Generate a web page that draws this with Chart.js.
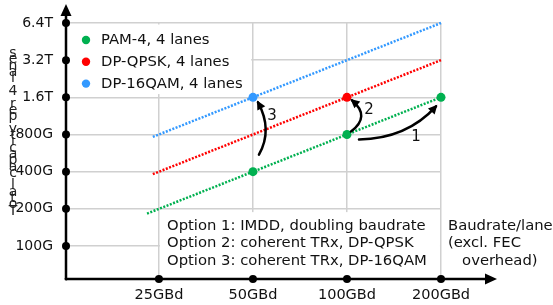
<!DOCTYPE html>
<html><head><meta charset="utf-8">
<script src="https://cdn.jsdelivr.net/npm/chart.js@4/dist/chart.umd.min.js"></script>
<style>html,body{margin:0;padding:0;background:#fff}#wrap{width:553px;height:305px}</style>
</head><body><div id="wrap"><canvas id="c" width="553" height="305"></canvas></div>
<script>
// ---- data ----
const xTickValues = [25, 50, 100, 200];
const xTickLabels = ['25GBd', '50GBd', '100GBd', '200GBd'];
const yTickValues = [100, 200, 400, 800, 1600, 3200, 6400];
const yTickLabels = ['100G', '200G', '400G', '800G', '1.6T', '3.2T', '6.4T'];
const seriesNames = ['PAM-4, 4 lanes', 'DP-QPSK, 4 lanes', 'DP-16QAM, 4 lanes'];
const seriesColors = ['#00b050', '#ff0000', '#3399ff'];
const pamLineX = [22.9, 200];   const pamLineY = [183, 1600];
const qpskLineX = [23.9, 200];  const qpskLineY = [382, 3200];
const qamLineX = [23.9, 200];   const qamLineY = [765, 6400];
const pamMarkX = [50, 100, 200]; const pamMarkY = [400, 800, 1600];
const qpskMarkX = [100];         const qpskMarkY = [1600];
const qamMarkX = [50];           const qamMarkY = [1600];
const optionTexts = ['Option 1: IMDD, doubling baudrate', 'Option 2: coherent TRx, DP-QPSK', 'Option 3: coherent TRx, DP-16QAM'];
const xTitleLines = ['Baudrate/lane', '(excl. FEC', '   overhead)'];
const yTitle = 'Total capacity per 4 lanes';

const FONT = '"DejaVu Sans", Verdana, sans-serif';
const pts = (xs, ys) => xs.map((x, i) => ({x, y: ys[i]}));
const lineDs = (xs, ys, c) => ({data: pts(xs, ys), showLine: true, borderColor: c, borderWidth: 2.5, borderDash: [2, 1.5], pointRadius: 0, clip: false, fill: false});
const markDs = (xs, ys, c) => ({data: pts(xs, ys), showLine: false, backgroundColor: c, borderColor: c, pointRadius: 4.5, pointBorderWidth: 0, clip: false});

function arrowHead(ctx, x, y, ang, len, w) {
  ctx.save(); ctx.translate(x, y); ctx.rotate(ang);
  ctx.beginPath(); ctx.moveTo(0, 0); ctx.lineTo(-len, -w / 2); ctx.lineTo(-len, w / 2); ctx.closePath(); ctx.fill();
  ctx.restore();
}
function curvedArrow(ctx, p0, c, p1) {
  ctx.beginPath(); ctx.moveTo(p0[0], p0[1]); ctx.quadraticCurveTo(c[0], c[1], p1[0], p1[1]); ctx.stroke();
  const ang = Math.atan2(p1[1] - c[1], p1[0] - c[0]);
  arrowHead(ctx, p1[0] + 2 * Math.cos(ang), p1[1] + 2 * Math.sin(ang), ang, 9, 9);
}

const deco = {
  id: 'deco',
  beforeDatasetsDraw(chart) {
    const ctx = chart.ctx, xs = chart.scales.x, ys = chart.scales.y;
    ctx.save(); ctx.fillStyle = '#fff';
    ctx.fillRect(xs.left + 1, ys.getPixelForValue(6400) + 1.5, xs.getPixelForValue(49) - xs.left, ys.getPixelForValue(1700) - ys.getPixelForValue(6400) - 1.5);
    ctx.fillRect(xs.getPixelForValue(25) + 1, ys.getPixelForValue(188), xs.getPixelForValue(197) - xs.getPixelForValue(25), ys.bottom - ys.getPixelForValue(188) - 1);
    ctx.restore();
  },
  afterDatasetsDraw(chart) {
    const ctx = chart.ctx, xs = chart.scales.x, ys = chart.scales.y;
    const L = xs.left, B = ys.bottom;
    ctx.save();
    ctx.strokeStyle = '#000'; ctx.fillStyle = '#000'; ctx.lineWidth = 2.5;
    ctx.beginPath(); ctx.moveTo(L, B); ctx.lineTo(L, 10); ctx.stroke();
    arrowHead(ctx, L, 4, -Math.PI / 2, 12, 11);
    ctx.beginPath(); ctx.moveTo(L, B); ctx.lineTo(490, B); ctx.stroke();
    arrowHead(ctx, 497, B, 0, 12, 11);
    yTickValues.forEach(v => { ctx.beginPath(); ctx.arc(L, ys.getPixelForValue(v), 4, 0, 2 * Math.PI); ctx.fill(); });
    xTickValues.forEach(v => { ctx.beginPath(); ctx.arc(xs.getPixelForValue(v), B, 4, 0, 2 * Math.PI); ctx.fill(); });
    ctx.beginPath(); ctx.arc(L, B, 1.5, 0, 2 * Math.PI); ctx.fill();
    const g50 = [xs.getPixelForValue(50), ys.getPixelForValue(400)];
    const g100 = [xs.getPixelForValue(100), ys.getPixelForValue(800)];
    const g200 = [xs.getPixelForValue(200), ys.getPixelForValue(1600)];
    const r100 = [xs.getPixelForValue(100), ys.getPixelForValue(1600)];
    const b50 = [xs.getPixelForValue(50), ys.getPixelForValue(1600)];
    ctx.lineWidth = 2.5; ctx.lineCap = 'round';
    curvedArrow(ctx, [g100[0] + 12, g100[1] + 5], [g100[0] + 60, g100[1] + 4], [g200[0] - 5, g200[1] + 9]);
    curvedArrow(ctx, [g100[0] + 4, g100[1] - 3], [g100[0] + 24, g100[1] - 18], [r100[0] + 5, r100[1] + 3]);
    curvedArrow(ctx, [g50[0] + 6, g50[1] - 17], [g50[0] + 20, g50[1] - 42], [b50[0] + 5, b50[1] + 5]);
    ctx.font = '15px ' + FONT; ctx.textAlign = 'center'; ctx.textBaseline = 'middle'; ctx.fillStyle = '#111';
    ctx.fillText('1', g100[0] + 69, g100[1] + 3);
    ctx.fillText('2', r100[0] + 22, r100[1] + 13);
    ctx.fillText('3', b50[0] + 19, b50[1] + 19);
    ctx.textAlign = 'left'; ctx.font = '14.8px ' + FONT;
    seriesNames.forEach((n, i) => {
      const y = 40 + i * 21.8;
      ctx.fillStyle = seriesColors[i]; ctx.beginPath(); ctx.arc(86, y, 4.2, 0, 2 * Math.PI); ctx.fill();
      ctx.fillStyle = '#111'; ctx.fillText(n, 101, y + 0.5);
    });
    optionTexts.forEach((t, i) => ctx.fillText(t, 167, 226 + i * 17.4));
    xTitleLines.forEach((t, i) => ctx.fillText(t, 448, 226 + i * 17.4));
    ctx.textAlign = 'center'; ctx.font = '14px ' + FONT; ctx.fillStyle = '#222';
    yTitle.split('').forEach((ch, i) => ctx.fillText(ch, 13, 211 - i * 6.3));
    ctx.restore();
  }
};

new Chart(document.getElementById('c'), {
  type: 'scatter',
  data: {
    datasets: [
      lineDs(pamLineX, pamLineY, seriesColors[0]),
      lineDs(qpskLineX, qpskLineY, seriesColors[1]),
      lineDs(qamLineX, qamLineY, seriesColors[2]),
      markDs(pamMarkX, pamMarkY, seriesColors[0]),
      markDs(qpskMarkX, qpskMarkY, seriesColors[1]),
      markDs(qamMarkX, qamMarkY, seriesColors[2])
    ]
  },
  options: {
    responsive: false, animation: false, devicePixelRatio: 1,
    layout: {padding: {top: 23, right: 112, left: 0, bottom: 0}},
    plugins: {legend: {display: false}, tooltip: {enabled: false}},
    scales: {
      x: {
        type: 'logarithmic', min: 12.6, max: 200,
        afterFit(s) { s.height = 26; },
        afterBuildTicks(s) { s.ticks = xTickValues.map(v => ({value: v})); },
        grid: {color: '#d0d0d0', lineWidth: 1.5, drawTicks: false},
        border: {display: false},
        ticks: {padding: 8, color: '#111', font: {family: FONT, size: 14.5}, maxRotation: 0, autoSkip: false,
          callback: v => { const i = xTickValues.indexOf(v); return i >= 0 ? xTickLabels[i] : ''; }}
      },
      y: {
        type: 'logarithmic', min: 54, max: 6400,
        afterFit(s) { s.width = 66; },
        afterBuildTicks(s) { s.ticks = yTickValues.map(v => ({value: v})); },
        grid: {color: '#d0d0d0', lineWidth: 1.5, drawTicks: false},
        border: {display: false},
        ticks: {padding: 13, color: '#111', font: {family: FONT, size: 14}, autoSkip: false,
          callback: v => { const i = yTickValues.indexOf(v); return i >= 0 ? yTickLabels[i] : ''; }}
      }
    }
  },
  plugins: [deco]
});
</script></body></html>
